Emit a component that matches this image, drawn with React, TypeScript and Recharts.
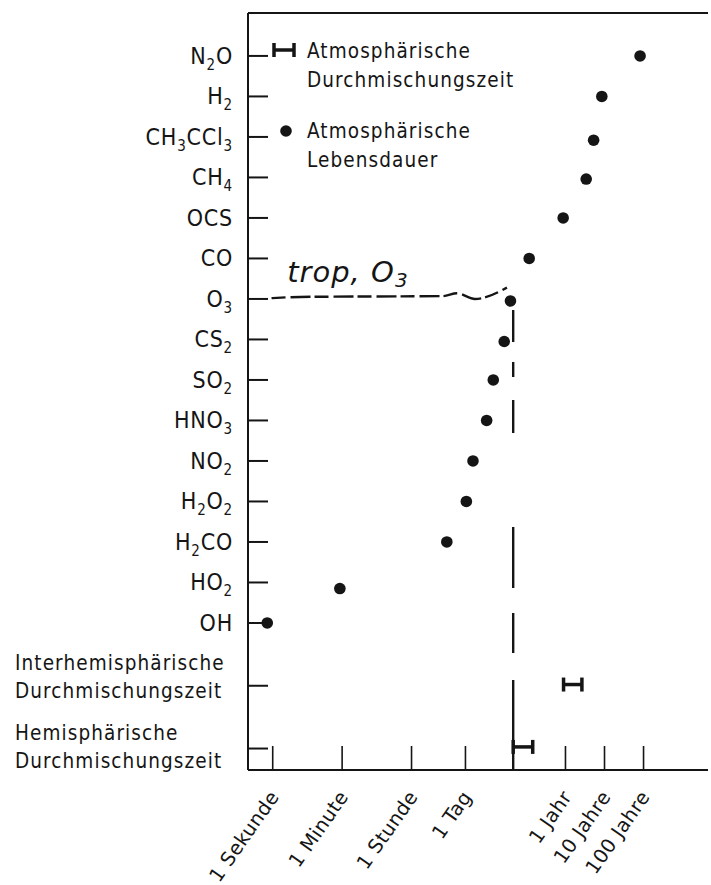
import React from 'react';
import {
  ComposedChart,
  Scatter,
  XAxis,
  YAxis,
  ReferenceLine,
  ReferenceDot,
  ErrorBar,
  Legend,
} from 'recharts';

// ---- data (x = log10 of time in seconds) ----
const species = ['N₂O', 'H₂', 'CH₃CCl₃', 'CH₄', 'OCS', 'CO', 'O₃', 'CS₂', 'SO₂', 'HNO₃', 'NO₂', 'H₂O₂', 'H₂CO', 'HO₂', 'OH'];
const speciesRows = [0, 1, 2.08, 3.04, 4, 5, 6.05, 7.05, 8, 9, 10, 11, 12, 13.15, 14];
const lifetimeLog10s = [9.41, 8.43, 8.22, 8.03, 7.44, 6.57, 6.09, 5.93, 5.65, 5.48, 5.13, 4.96, 4.46, 1.72, -0.14];

const mixingLabels = ['Interhemisphärische|Durchmischungszeit', 'Hemisphärische|Durchmischungszeit'];
const mixingRows = [15.52, 17.06];
const mixingLow = [7.45, 6.16];
const mixingHigh = [7.92, 6.66];

const rowTicks = [0, 1, 2, 3, 4, 5, 6, 7, 8, 9, 10, 11, 12, 13, 14, 15.55, 17.1];
const rowTickLabels = [...species, ...mixingLabels];

const timeTicks = [0, 1.778, 3.556, 4.937, 7.499, 8.499, 9.499];
const timeLabels = ['1 Sekunde', '1 Minute', '1 Stunde', '1 Tag', '1 Jahr', '10 Jahre', '100 Jahre'];

const annotationText = 'trop, O₃';
const annotationPos = { x: 0.37, y: 5.58 };
const bracketX = [-0.03, 0.7, 2.24, 4.36, 4.72, 5.18, 6.0];
const bracketY = [5.98, 5.95, 5.94, 5.93, 5.86, 6.0, 5.72];
const o3LineX = 6.16;
const o3LineRows = [6.27, 17.63];

const legendLabels = ['Atmosphärische|Durchmischungszeit', 'Atmosphärische|Lebensdauer'];

// ---- derived tables ----
const lifetimeData = species.map((s, i) => ({ name: s, x: lifetimeLog10s[i], y: speciesRows[i] }));
const mixingData = mixingLabels.map((s, i) => ({
  name: s,
  x: (mixingLow[i] + mixingHigh[i]) / 2,
  y: mixingRows[i],
  err: (mixingHigh[i] - mixingLow[i]) / 2,
}));
const bracketData = bracketX.map((x, i) => ({ x, y: bracketY[i] }));

const INK = '#151515';
const COND = "'DejaVu Sans Condensed', 'DejaVu Sans', sans-serif";

const SUB: Record<string, string> = { '₀': '0', '₁': '1', '₂': '2', '₃': '3', '₄': '4', '₅': '5', '₆': '6', '₇': '7', '₈': '8', '₉': '9' };

function renderFormula(label: string, subSize: number, shift: number) {
  const parts: React.ReactNode[] = [];
  let inSub = false;
  let prevSub = false;
  let buf = '';
  let key = 0;
  const push = () => {
    if (!buf) return;
    parts.push(
      <tspan key={key++} fontSize={inSub ? subSize : undefined} dy={inSub ? shift : prevSub ? -shift : 0}>
        {buf}
      </tspan>
    );
    prevSub = inSub;
    buf = '';
  };
  for (const ch of label) {
    const isSub = ch in SUB;
    if (isSub !== inSub) {
      push();
      inSub = isSub;
    }
    buf += isSub ? SUB[ch] : ch;
  }
  push();
  return parts;
}

const YTick = (props: any) => {
  const { x, y, payload } = props;
  const idx = rowTicks.indexOf(payload.value);
  const label = rowTickLabels[idx] ?? '';
  const tick = <line x1={x} y1={y} x2={x + 20} y2={y} stroke={INK} strokeWidth={2} />;
  if (label.includes('|')) {
    const [a, b] = label.split('|');
    const first = idx === rowTicks.length - 1 ? -9 : -16;
    return (
      <g>
        {tick}
        <text x={x - 233} y={y + first} fontFamily={COND} fontSize={20.5} fill={INK} letterSpacing={1.1}>
          {a}
        </text>
        <text x={x - 233} y={y + first + 28} fontFamily={COND} fontSize={20.5} fill={INK} letterSpacing={1.1}>
          {b}
        </text>
      </g>
    );
  }
  return (
    <g>
      {tick}
      <text x={x - 15} y={y + 8} textAnchor="end" fontFamily={COND} fontSize={23} fill={INK} letterSpacing={0.8}>
        {renderFormula(label, 15, 6)}
      </text>
    </g>
  );
};

const XTick = (props: any) => {
  const { x, y, payload } = props;
  const idx = timeTicks.indexOf(payload.value);
  const label = timeLabels[idx] ?? '';
  const px = x + 7;
  const py = y + 27;
  return (
    <g>
      <line x1={x} y1={y} x2={x} y2={y - 24} stroke={INK} strokeWidth={1.6} />
      <text
        x={px}
        y={py}
        textAnchor="end"
        transform={`rotate(-55, ${px}, ${py})`}
        fontFamily="'DejaVu Sans', sans-serif"
        fontSize={19.5}
        fill={INK}
        letterSpacing={0.3}
      >
        {label}
      </text>
    </g>
  );
};

const LegendContent = () => {
  const [a1, a2] = legendLabels[0].split('|');
  const [b1, b2] = legendLabels[1].split('|');
  const t = { fontFamily: COND, fontSize: 20.5, fill: INK, letterSpacing: 1.1 } as const;
  return (
    <svg width={260} height={150} style={{ overflow: 'visible' }}>
      <line x1={11} y1={22} x2={33} y2={22} stroke={INK} strokeWidth={3.5} />
      <line x1={12} y1={15} x2={12} y2={29} stroke={INK} strokeWidth={3.5} />
      <line x1={32} y1={15} x2={32} y2={29} stroke={INK} strokeWidth={3.5} />
      <text x={45} y={30} {...t}>{a1}</text>
      <text x={45} y={59} {...t}>{a2}</text>
      <circle cx={24} cy={103} r={5.8} fill={INK} />
      <text x={45} y={110} {...t}>{b1}</text>
      <text x={45} y={139} {...t}>{b2}</text>
    </svg>
  );
};

const Dot = (p: any) => <circle cx={p.cx} cy={p.cy} r={5.8} fill={INK} />;
const Nothing = () => <g />;

const Annotation = (p: any) => (
  <text
    x={p.cx}
    y={p.cy}
    fontFamily="'DejaVu Sans', sans-serif"
    fontStyle="italic"
    fontSize={29}
    fill={INK}
    letterSpacing={1}
  >
    {renderFormula(annotationText, 20, 5)}
  </text>
);

export default function App() {
  return (
    <div style={{ position: 'absolute', left: 0, top: 0, background: '#fff' }}>
      <ComposedChart width={711} height={885} margin={{ top: 13, right: 3, bottom: 0, left: 0 }}>
        <XAxis
          type="number"
          dataKey="x"
          domain={[-0.633, 11.15]}
          allowDataOverflow
          ticks={timeTicks}
          interval={0}
          tick={<XTick />}
          tickLine={false}
          tickSize={0}
          tickMargin={0}
          height={115}
          axisLine={{ stroke: INK, strokeWidth: 2 }}
        />
        <YAxis
          type="number"
          dataKey="y"
          domain={[-1.06, 17.63]}
          allowDataOverflow
          reversed
          ticks={rowTicks}
          interval={0}
          tick={<YTick />}
          tickLine={false}
          tickSize={0}
          tickMargin={0}
          width={248}
          axisLine={{ stroke: INK, strokeWidth: 2 }}
        />
        <ReferenceLine y={-1.06} stroke={INK} strokeWidth={2} ifOverflow="visible" />
        <Legend
          layout="horizontal"
          verticalAlign="middle"
          align="center"
          content={<LegendContent />}
          wrapperStyle={{ position: 'absolute', left: 262, top: 28, width: 260, height: 150 }}
        />
        <ReferenceLine
          segment={[
            { x: o3LineX, y: o3LineRows[0] },
            { x: o3LineX, y: o3LineRows[1] },
          ]}
          stroke={INK}
          strokeWidth={2.4}
          strokeDasharray="32 20 15 23 33 94 61 25 40 27 90"
          ifOverflow="visible"
        />
        <Scatter
          name="bracket"
          data={bracketData}
          line={{ stroke: INK, strokeWidth: 2.4, strokeDasharray: '14 5 20 4' }}
          lineJointType="monotoneX"
          shape={<Nothing />}
          isAnimationActive={false}
          legendType="none"
        />
        <Scatter
          name="Atmosphärische Lebensdauer"
          data={lifetimeData}
          shape={<Dot />}
          isAnimationActive={false}
        />
        <Scatter
          name="Atmosphärische Durchmischungszeit"
          data={mixingData}
          shape={<Nothing />}
          isAnimationActive={false}
        >
          <ErrorBar dataKey="err" direction="x" width={7} stroke={INK} strokeWidth={3.5} isAnimationActive={false} />
        </Scatter>
        <ReferenceDot
          x={annotationPos.x}
          y={annotationPos.y}
          r={0}
          shape={<Annotation />}
          ifOverflow="visible"
        />
      </ComposedChart>
    </div>
  );
}
